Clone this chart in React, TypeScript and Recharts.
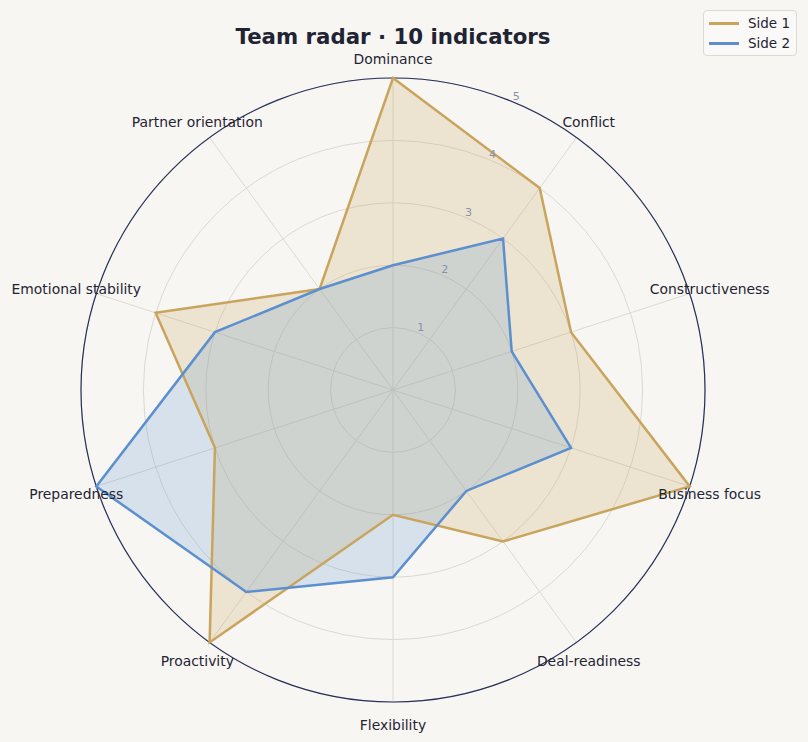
import React from "react";
import {
  RadarChart,
  Radar,
  PolarGrid,
  PolarAngleAxis,
  PolarRadiusAxis,
  Legend,
} from "recharts";

const categories = [
  "Dominance",
  "Conflict",
  "Constructiveness",
  "Business focus",
  "Deal-readiness",
  "Flexibility",
  "Proactivity",
  "Preparedness",
  "Emotional stability",
  "Partner orientation",
];
const side1 = [5, 4, 3, 5, 3, 2, 5, 3, 4, 2];
const side2 = [2, 3, 2, 3, 2, 3, 4, 5, 3, 2];
const radiusTicks = [0, 1, 2, 3, 4, 5];

const GOLD = "#c9a45c";
const BLUE = "#5b8fcf";
const INK = "#1f2433";
const FONT = "'DejaVu Sans', sans-serif";

const data = categories.map((c, i) => ({ axis: c, side1: side1[i], side2: side2[i] }));

const AngleTick = (props: any) => {
  const { x, y, payload } = props;
  return (
    <text x={x} y={y + 1.5} textAnchor="middle" dominantBaseline="central" fontSize={13.9} fill={INK} fontFamily={FONT}>
      {payload.value}
    </text>
  );
};

const RadiusTick = (props: any) => {
  const { x, y, payload } = props;
  if (payload.value === 0) return null;
  return (
    <text x={x + 4} y={y - 5} textAnchor="middle" dominantBaseline="central" fontSize={11.1} fill="#8a90a6" fontFamily={FONT}>
      {payload.value}
    </text>
  );
};

const LegendBox = () => (
  <div
    style={{
      background: "#faf9f7",
      border: "1px solid #dcdad5",
      borderRadius: 4,
      padding: "2px 6px 2px 5px",
      fontFamily: FONT,
      fontSize: 13.5,
      color: INK,
      lineHeight: "20px",
    }}
  >
    {[
      { name: "Side 1", color: GOLD },
      { name: "Side 2", color: BLUE },
    ].map((s) => (
      <div key={s.name} style={{ display: "flex", alignItems: "center" }}>
        <span style={{ display: "inline-block", width: 30, height: 3, background: s.color, marginRight: 9 }} />
        {s.name}
      </div>
    ))}
  </div>
);

export default function App() {
  return (
    <div style={{ position: "absolute", left: 0, top: 0, width: 808, height: 742, background: "#f7f6f3" }}>
      <div
        style={{
          position: "absolute",
          top: 24,
          left: 0,
          width: 786,
          textAlign: "center",
          fontFamily: FONT,
          fontWeight: "bold",
          fontSize: 21.3,
          color: INK,
        }}
      >
        Team radar · 10 indicators
      </div>
      <RadarChart width={808} height={742} data={data} cx={393} cy={390} outerRadius={312} startAngle={90} endAngle={-270}>
        <Radar dataKey="side1" name="Side 1" stroke="none" fill={GOLD} fillOpacity={0.22} isAnimationActive={false} legendType="none" />
        <Radar dataKey="side2" name="Side 2" stroke="none" fill={BLUE} fillOpacity={0.2} isAnimationActive={false} legendType="none" />
        <PolarGrid gridType="circle" stroke="#dcd9d2" strokeWidth={1} />
        <PolarGrid gridType="circle" polarRadius={[312]} radialLines={false} stroke="#27305a" strokeWidth={1.2} />
        <PolarAngleAxis dataKey="axis" tick={<AngleTick />} tickLine={false} axisLine={false} tickSize={21} />
        <PolarRadiusAxis angle={67.5} domain={[0, 5]} ticks={radiusTicks} tickCount={6} axisLine={false} tick={<RadiusTick />} />
        <Radar dataKey="side1" name="Side 1" stroke={GOLD} strokeWidth={2.5} fill="none" fillOpacity={0} isAnimationActive={false} />
        <Radar dataKey="side2" name="Side 2" stroke={BLUE} strokeWidth={2.5} fill="none" fillOpacity={0} isAnimationActive={false} />
        <Legend
          content={<LegendBox />}
          wrapperStyle={{ position: "absolute", top: 10, right: 11, left: "auto", width: "auto" }}
        />
      </RadarChart>
    </div>
  );
}
